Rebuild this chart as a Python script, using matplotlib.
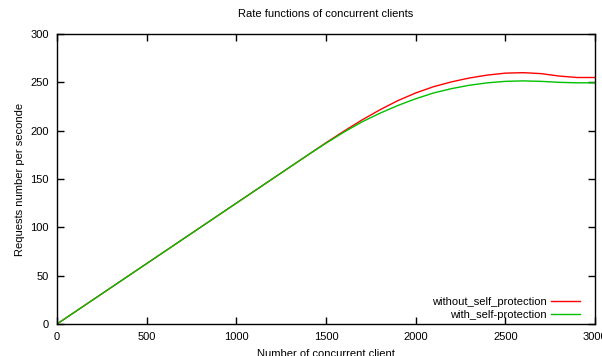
import matplotlib
matplotlib.use("Agg")
import matplotlib.pyplot as plt

plt.rcParams["font.family"] = ["Liberation Sans", "DejaVu Sans"]

# data
clients = [0, 1400, 1500, 1600, 1700, 1800, 1900, 2000, 2100, 2200,
           2300, 2400, 2500, 2600, 2700, 2800, 2900, 3000]
without_prot = [0, 175, 187.5, 199.5, 211, 221.5, 231, 239, 245.5, 250.5,
                254.5, 257.5, 259.5, 260, 259, 256.5, 255, 255]
with_prot = [0, 175, 187, 198.5, 209, 218, 226, 233, 239, 243.5,
             247, 249.5, 251, 251.5, 251, 250, 249.5, 249.5]
x_ticks = [0, 500, 1000, 1500, 2000, 2500, 3000]
y_ticks = [0, 50, 100, 150, 200, 250, 300]

fig = plt.figure(figsize=(6.02, 3.56), dpi=100)
ax = fig.add_axes([57/602, 32/356, (595-57)/602, (324-34)/356])

ax.plot(clients, without_prot, color="#ff0000", lw=1, label="without_self_protection")
ax.plot(clients, with_prot, color="#00c000", lw=1, label="with_self-protection")

ax.set_xlim(0, 3000)
ax.set_ylim(0, 300)
ax.set_xticks(x_ticks)
ax.set_yticks(y_ticks)
ax.tick_params(direction="in", length=5, width=1, labelsize=8,
               top=True, right=True, pad=6)
for s in ax.spines.values():
    s.set_linewidth(1)

ax.set_title("Rate functions of concurrent clients", fontsize=8, pad=12)
ax.set_xlabel("Number of concurrent client", fontsize=8, labelpad=5)
ax.set_ylabel("Requests number per seconde", fontsize=8, labelpad=4)

ax.legend(loc="lower right", bbox_to_anchor=(0.981, 0.0), frameon=False,
          fontsize=8, markerfirst=False, handlelength=2.6, handletextpad=0.4,
          labelspacing=0.2, borderaxespad=0.1, borderpad=0.3)

fig.savefig("out.png", dpi=100)
